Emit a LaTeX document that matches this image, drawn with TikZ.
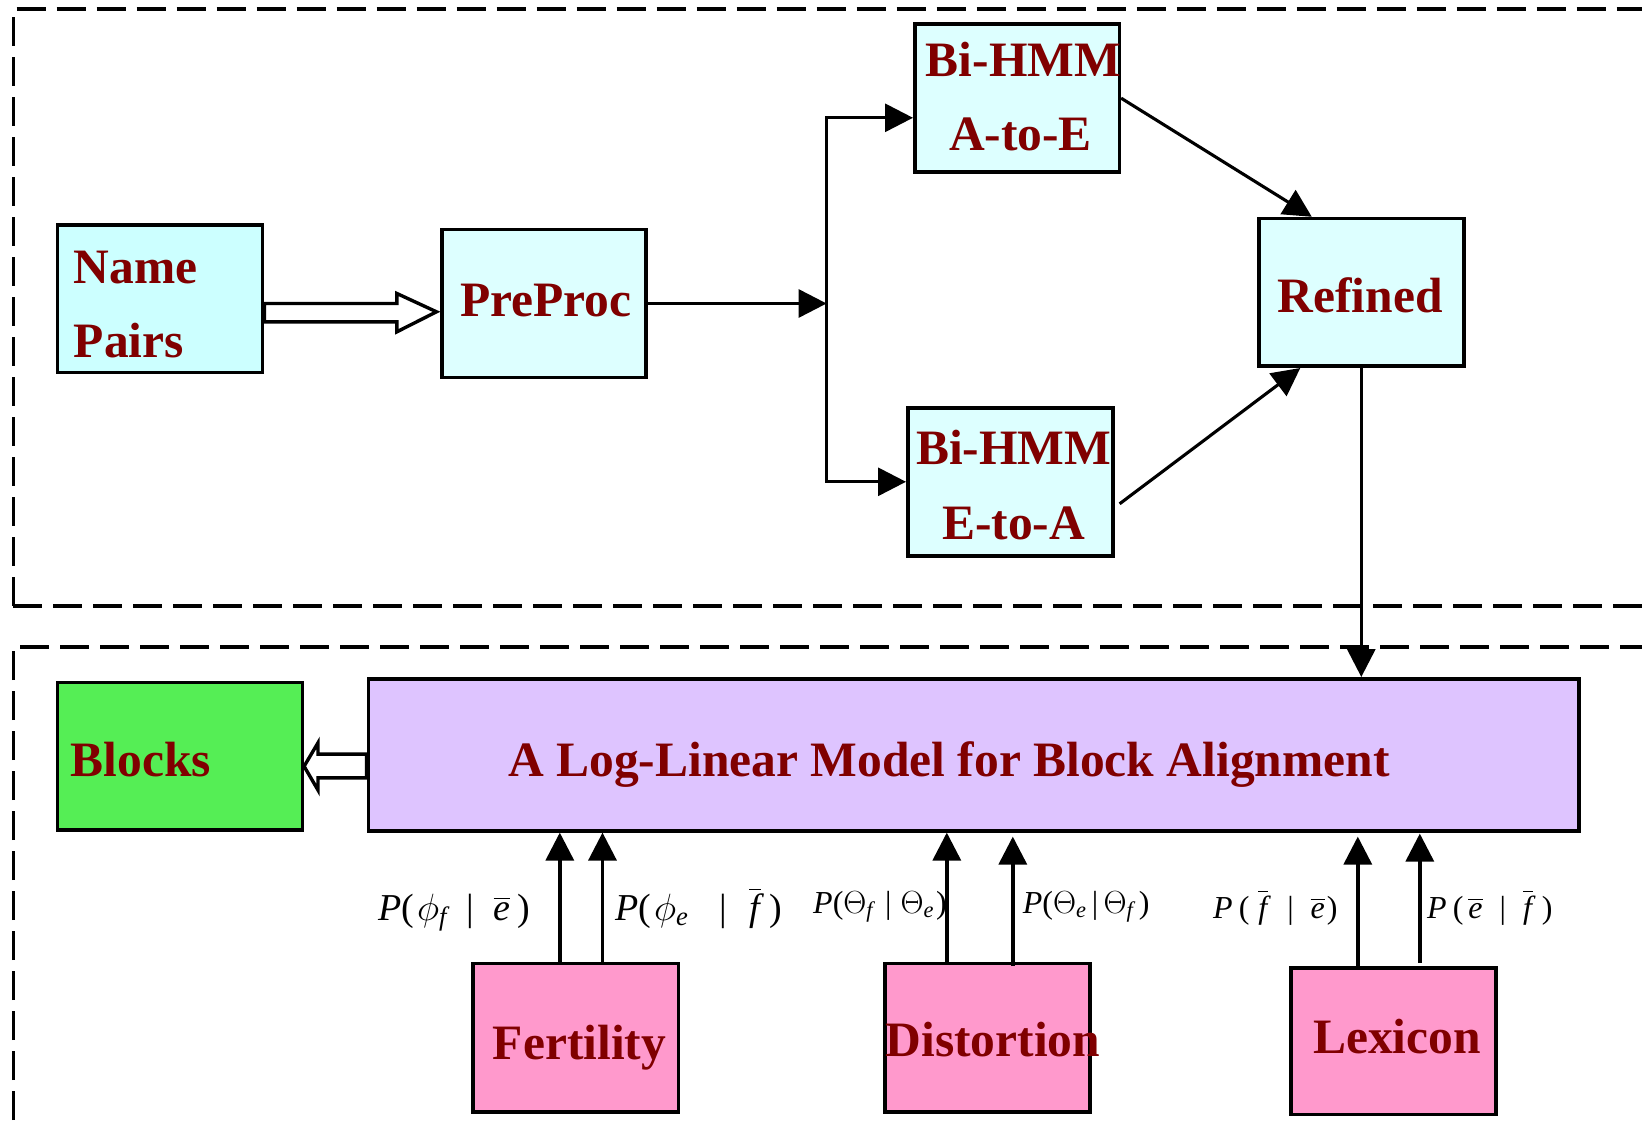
\RequirePackage{fix-cm}
\documentclass[tikz,border=0pt]{standalone}
\usepackage{amsmath}
\usepackage{fontspec}
\setmainfont{Liberation Serif}
\usetikzlibrary{arrows.meta,calc}
\definecolor{txtred}{RGB}{128,0,0}
\definecolor{cyanA}{HTML}{CCFFFF}
\definecolor{cyanB}{HTML}{DDFFFF}
\definecolor{greenB}{HTML}{55EE55}
\definecolor{lavB}{HTML}{DEC4FF}
\definecolor{pinkB}{HTML}{FF99CC}
\newcommand\ti[1]{\textit{#1}}
\newcommand\tup[1]{\textup{#1}}
\newcommand\fbarit{\overline{\ti{f}\hspace{1pt}}}
\tikzset{
  boxc/.style={draw, line width=3.6pt, inner sep=0pt, anchor=north west},
  txt/.style={font=\fontsize{49.5}{55}\selectfont\bfseries, text=txtred, inner sep=0pt, anchor=base west},
  lab/.style={inner sep=0pt, anchor=base west},
  conn/.style={line width=3.1pt, -{Triangle[length=28pt,width=28pt]}},
  plain/.style={line width=3.1pt},
  hollow/.style={draw, line width=3.4pt, fill=white, line join=miter},
  dsh/.style={dash pattern=on 29pt off 11pt, line width=3.6pt},
}
\begin{document}
\begin{tikzpicture}[x=1pt,y=-1pt]
\useasboundingbox (0,0) rectangle (1642,1129);
\clip (0,0) rectangle (1642,1129);
% dashed frames
\draw[dsh] (13.4,605.7) -- (13.4,9) -- (1700,9);
\draw[dsh] (13.4,605.7) -- (1700,605.7);
\draw[dsh] (13.4,1160) -- (13.4,646.7) -- (1700,646.7);
% boxes
\node[boxc, fill=cyanA, minimum width=205.3pt, minimum height=147.7pt] (np) at (55.5,223) {};
\node[boxc, fill=cyanB, minimum width=204pt, minimum height=148pt] (pp) at (440,227.7) {};
\node[boxc, fill=cyanB, minimum width=204.5pt, minimum height=148.3pt] (ae) at (913,22.2) {};
\node[boxc, fill=cyanB, minimum width=205pt, minimum height=148pt] (ea) at (906,406) {};
\node[boxc, fill=cyanB, minimum width=205pt, minimum height=147.6pt] (rf) at (1257,216.8) {};
\node[boxc, fill=lavB, minimum width=1210.5pt, minimum height=152pt] (ll) at (366.5,677) {};
\node[boxc, fill=greenB, minimum width=245pt, minimum height=147.6pt] (bl) at (55.5,680.7) {};
\node[boxc, fill=pinkB, minimum width=205.6pt, minimum height=148.3pt] (fe) at (471,961.7) {};
\node[boxc, fill=pinkB, minimum width=205pt, minimum height=148.3pt] (di) at (883,961.7) {};
\node[boxc, fill=pinkB, minimum width=205pt, minimum height=146.7pt] (lx) at (1289,966) {};
% box texts
\node[txt] (tnp1) at (73.7,283) {Name};
\node[txt] (tnp2) at (73.7,357) {Pairs};
\node[txt] (tpp) at (460,316.7) {PreProc};
\node[txt] (tae1) at (925.7,76.6) {Bi-HMM};
\node[txt] (tae2) at (948.8,150.6) {A-to-E};
\node[txt] (trf) at (1277.5,312) {Refined};
\node[txt] (tea1) at (915.8,464.8) {Bi-HMM};
\node[txt] (tea2) at (942,539.5) {E-to-A};
\node[txt] (tll) at (508,776.7) {A Log-Linear Model for Block Alignment};
\node[txt] (tbl) at (70.5,776.7) {Blocks};
\node[txt] (tfe) at (492.7,1059.3) {Fertility};
\node[txt] (tdi) at (885.5,1056.7) {Distortion};
\node[txt] (tlx) at (1313,1053) {Lexicon};
% hollow arrows
\draw[hollow] ($(np.east)+(0,4.85)$) -- ++(132.5,0) -- ++(0,-10) -- ($(pp.west)+(-3.5,8.3)$)
  -- ($(np.east)+(132.5,33.15)$) -- ++(0,-10) -- ($(np.east)+(0,23.15)$) -- cycle;
\draw[hollow] ($(ll.west)+(0,-0.7)$) -- ++(-48.5,0) -- ++(0,-11.3) -- ($(bl.east)+(0,10)$)
  -- ($(ll.west)+(-48.5,35.3)$) -- ++(0,-12.3) -- ($(ll.west)+(0,23)$) -- cycle;
% branch connectors
\coordinate (br) at ($(pp.east)+(179,0)$);
\coordinate (brt) at ($(br)+(0,-185.7)$);
\coordinate (brb) at ($(br)+(0,178.3)$);
\draw[conn] (pp.east) -- (br);
\draw[plain, line cap=rect] (brt) -- (brb);
\draw[conn] (brt) -- (brt -| ae.west);
\draw[conn] (brb) -- (brb -| ea.west);
\draw[conn] (ae.east) -- ($(rf.north)+(-49.5,0)$);
\draw[conn] ($(ea.east)+(5,22)$) -- ($(rf.south)+(-61,0)$);
\draw[conn] (rf.south) -- (rf.south |- ll.north);
% feature arrows
\coordinate (f1) at ($(fe.north)+(-15.8,0)$);
\coordinate (f2) at ($(fe.north)+(26.9,0)$);
\coordinate (d1) at ($(di.north)+(-40.5,0)$);
\coordinate (d2) at ($(di.north)+(25.5,4)$);
\coordinate (l1) at ($(lx.north)+(-35.5,0)$);
\coordinate (l2) at ($(lx.north)+(26.5,-3.3)$);
\draw[conn, line width=3.5pt] (f1) -- (f1 |- ll.south);
\draw[conn, line width=3.5pt] (f2) -- (f2 |- ll.south);
\draw[conn, line width=3.5pt] (d1) -- (d1 |- ll.south);
\draw[conn, line width=3.5pt] (d2) -- ($(d2 |- ll.south)+(0,4)$);
\draw[conn, line width=3.5pt] (l1) -- ($(l1 |- ll.south)+(0,4)$);
\draw[conn, line width=3.5pt] (l2) -- ($(l2 |- ll.south)+(0,1)$);
% probability labels
\node[lab, font=\fontsize{38}{42}\selectfont] (p1) at (378,920)
  {$\ti{P}\tup{(}\hspace{3pt}\phi_{\ti{f}}\hspace{20pt}\tup{|}\hspace{19pt}\overline{\ti{e}}\hspace{7pt}\tup{)}$};
\node[lab, font=\fontsize{38}{42}\selectfont] (p2) at (615,920)
  {$\ti{P}\tup{(}\hspace{3pt}\phi_{\ti{e}}\hspace{31pt}\tup{|}\hspace{22pt}\fbarit\hspace{9pt}\tup{)}$};
\node[lab, font=\fontsize{32}{36}\selectfont] (p3) at (813,913)
  {$\ti{P}\tup{(}\Theta_{\ti{f}}\hspace{12pt}\tup{|}\hspace{9pt}\Theta_{\ti{e}}\hspace{2pt}\tup{)}$};
\node[lab, font=\fontsize{32}{36}\selectfont] (p4) at (1022.7,913)
  {$\ti{P}\tup{(}\Theta_{\ti{e}}\,\tup{|}\,\Theta_{\ti{f}}\,\tup{)}$};
\node[lab, font=\fontsize{32}{36}\selectfont] (p5) at (1213,918)
  {$\ti{P}\hspace{6pt}\tup{(}\hspace{9pt}\fbarit\hspace{19pt}\tup{|}\hspace{17pt}\overline{\ti{e}}\hspace{2pt}\tup{)}$};
\node[lab, font=\fontsize{32}{36}\selectfont] (p6) at (1427,918)
  {$\ti{P}\hspace{6pt}\tup{(}\hspace{5pt}\overline{\ti{e}}\hspace{17pt}\tup{|}\hspace{17pt}\fbarit\hspace{9pt}\tup{)}$};
\end{tikzpicture}
\end{document}
